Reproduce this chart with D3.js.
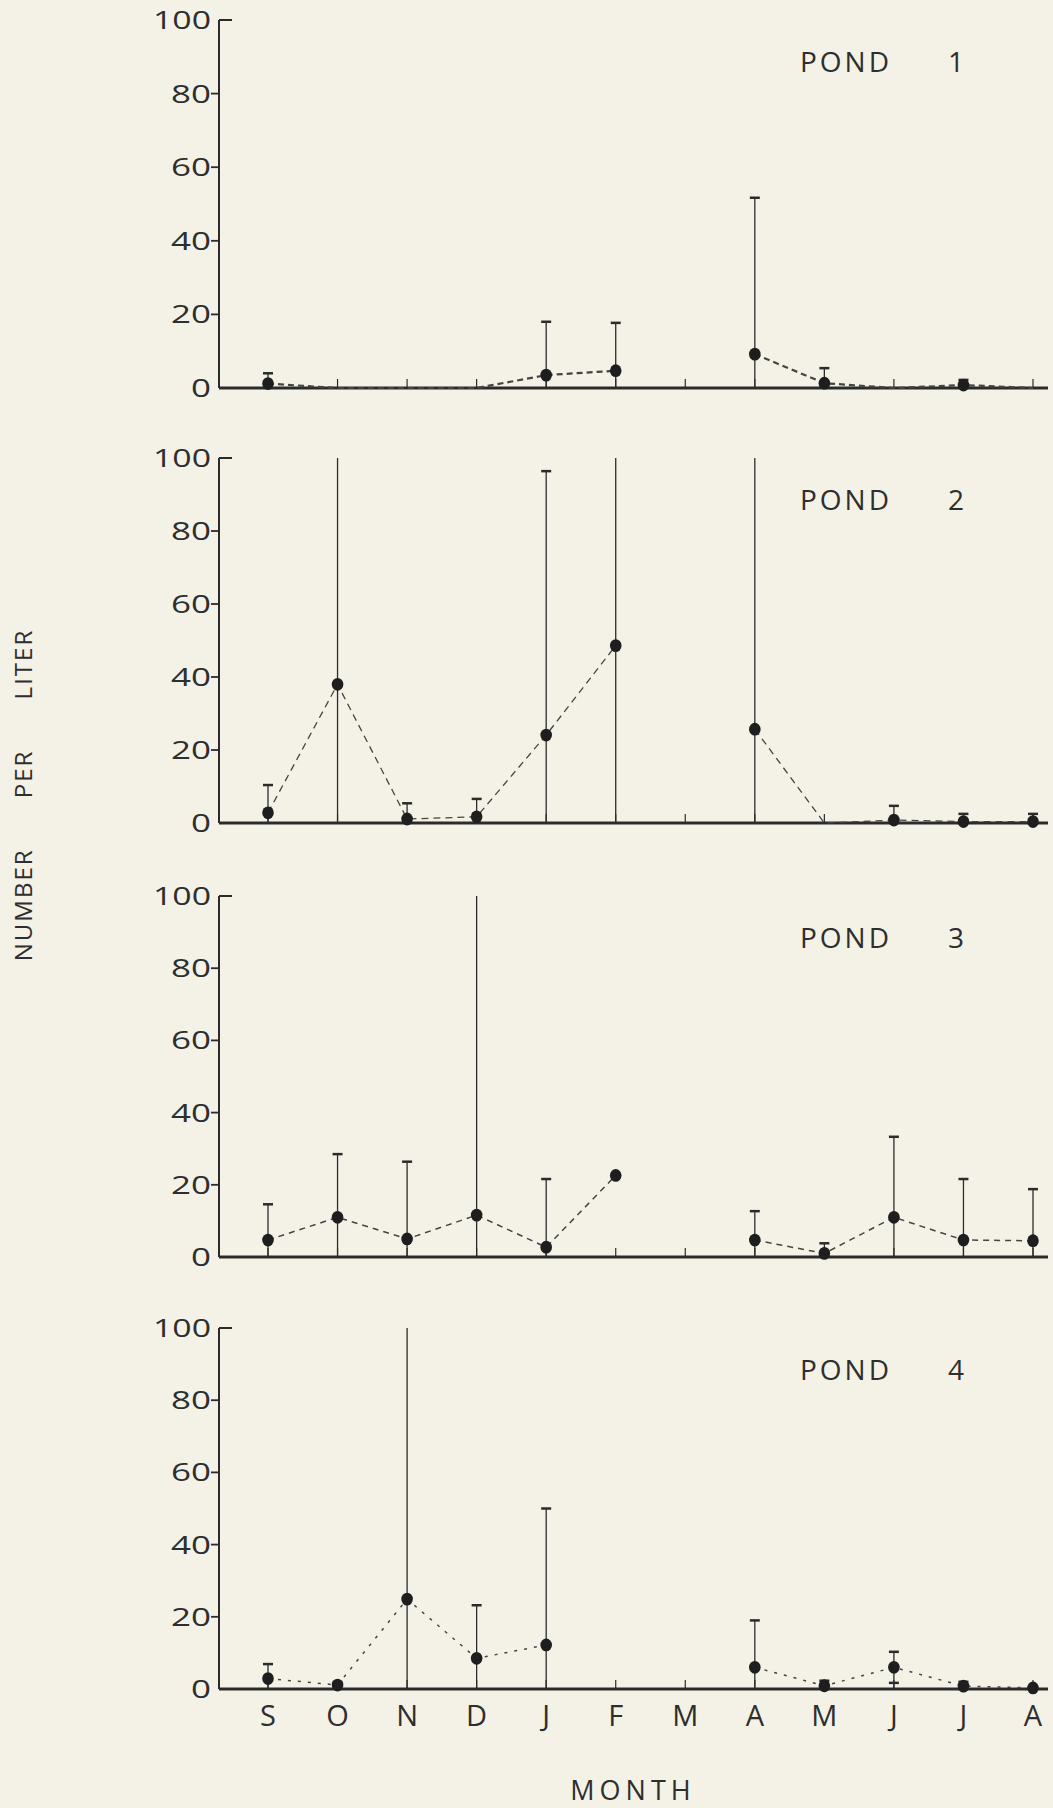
<!DOCTYPE html>
<html>
<head>
<meta charset="utf-8">
<script src="https://cdn.jsdelivr.net/npm/d3@7"></script>
<style>
  html, body { margin: 0; padding: 0; background: #f4f2e7; }
  svg { display: block; }
  text { font-family: "Open Sans", "DejaVu Sans", sans-serif; font-weight: 400; fill: #2e2e2e; }
</style>
</head>
<body>
<script>
// ---------- data ----------
const months = ["S","O","N","D","J","F","M","A","M","J","J","A"];
const yTicks = [0, 20, 40, 60, 80, 100];
const pondLabels = ["1", "2", "3", "4"];

// mean number per liter (null = no sample)
const pond1Mean  = [1.2, 0, 0, 0, 3.5, 4.7, null, 9.2, 1.3, 0, 0.8, 0];
const pond2Mean  = [2.8, 38, 1.1, 1.7, 24.1, 48.6, null, 25.7, 0, 0.8, 0.4, 0.4];
const pond3Mean  = [4.7, 11, 5, 11.6, 2.7, 22.6, null, 4.7, 1, 11, 4.7, 4.5];
const pond4Mean  = [2.9, 1.1, 24.9, 8.5, 12.2, null, null, 6, 0.9, 6, 0.8, 0.3];

// upper end of the error bar (Infinity = runs off the top of the scale)
const pond1Upper = [4, null, null, null, 18, 17.7, null, 51.7, 5.4, null, 2.2, null];
const pond2Upper = [10.4, Infinity, 5.4, 6.6, 96.4, Infinity, null, Infinity, null, 4.7, 2.5, 2.5];
const pond3Upper = [14.6, 28.5, 26.4, Infinity, 21.6, null, null, 12.7, 3.8, 33.3, 21.6, 18.8];
const pond4Upper = [6.9, 1.9, Infinity, 23.2, 50, null, null, 19, 2.3, 10.3, 2, null];

// lower cap of the error bar (only where drawn)
const pond4Lower = [null, null, null, null, null, null, null, null, null, 1.7, null, null];

const ponds = [
  { label: pondLabels[0], mean: pond1Mean, upper: pond1Upper, lower: null, dash: "6,4", lw: 2.2 },
  { label: pondLabels[1], mean: pond2Mean, upper: pond2Upper, lower: null, dash: "7,5", lw: 1.3 },
  { label: pondLabels[2], mean: pond3Mean, upper: pond3Upper, lower: null, dash: "6,5", lw: 1.5 },
  { label: pondLabels[3], mean: pond4Mean, upper: pond4Upper, lower: pond4Lower, dash: "3,7", lw: 1.5 }
];

// ---------- layout ----------
const W = 1053, H = 1808;
const axisX = 219, rightX = 1048;
const panelY = [ [388, 20], [823, 458], [1257, 896], [1689, 1328] ];
const ink = "#2b2b2b";

const svg = d3.select("body").append("svg").attr("width", W).attr("height", H);
svg.append("rect").attr("width", W).attr("height", H).attr("fill", "#f4f2e7");

const x = d3.scaleLinear().domain([0, months.length - 1]).range([268, 1033]);

ponds.forEach((p, pi) => {
  const [y0, y100] = panelY[pi];
  const y = d3.scaleLinear().domain([0, 100]).range([y0, y100]);
  const g = svg.append("g");

  // y axis line
  g.append("line").attr("x1", axisX).attr("x2", axisX).attr("y1", y(100)).attr("y2", y(0))
    .attr("stroke", ink).attr("stroke-width", 2);

  // y ticks
  yTicks.forEach(t => {
    if (t > 0 && t < 100) {
      g.append("line").attr("x1", axisX - 8).attr("x2", axisX).attr("y1", y(t)).attr("y2", y(t))
        .attr("stroke", ink).attr("stroke-width", 1.8);
    } else if (t === 100) {
      g.append("line").attr("x1", axisX).attr("x2", axisX + 13).attr("y1", y(t)).attr("y2", y(t))
        .attr("stroke", ink).attr("stroke-width", 2);
    }
    const s = String(t);
    g.append("text").attr("x", axisX - 8).attr("y", y(t) + 9)
      .attr("text-anchor", "end").attr("font-size", 25)
      .attr("textLength", s === "100" ? 58 : s.length * 20)
      .attr("lengthAdjust", "spacingAndGlyphs")
      .text(s);
  });

  // x axis (thick baseline) and month ticks
  g.append("line").attr("x1", axisX).attr("x2", rightX).attr("y1", y(0)).attr("y2", y(0))
    .attr("stroke", ink).attr("stroke-width", 3.2);
  months.forEach((m, i) => {
    g.append("line").attr("x1", x(i)).attr("x2", x(i)).attr("y1", y(0)).attr("y2", y(0) - 9)
      .attr("stroke", ink).attr("stroke-width", 1.2);
  });

  // error bars
  p.upper.forEach((u, i) => {
    if (u == null) return;
    const top = y(Math.min(u, 100));
    g.append("line").attr("x1", x(i)).attr("x2", x(i)).attr("y1", y(0)).attr("y2", top)
      .attr("stroke", ink).attr("stroke-width", 1.3);
    if (u <= 100) {
      g.append("line").attr("x1", x(i) - 5).attr("x2", x(i) + 5).attr("y1", top).attr("y2", top)
        .attr("stroke", ink).attr("stroke-width", 2.5);
    }
  });
  if (p.lower) {
    p.lower.forEach((l, i) => {
      if (l == null) return;
      g.append("line").attr("x1", x(i) - 5).attr("x2", x(i) + 5).attr("y1", y(l)).attr("y2", y(l))
        .attr("stroke", ink).attr("stroke-width", 2.5);
    });
  }

  // dashed connecting line
  const pts = p.mean.map((v, i) => ({ i, v }));
  const line = d3.line().defined(d => d.v != null).x(d => x(d.i)).y(d => y(d.v));
  g.append("path").datum(pts).attr("d", line).attr("fill", "none")
    .attr("stroke", "#444").attr("stroke-width", p.lw).attr("stroke-dasharray", p.dash);

  // points
  g.selectAll("ellipse.pt").data(pts.filter(d => d.v != null && d.v > 0)).enter()
    .append("ellipse").attr("class", "pt")
    .attr("cx", d => x(d.i)).attr("cy", d => y(d.v))
    .attr("rx", 5.8).attr("ry", 6.4).attr("fill", "#1e1e1e");

  // panel label
  g.append("text").attr("x", 800).attr("y", y(100) + 52).attr("font-size", 28)
    .attr("letter-spacing", 3).text("POND");
  g.append("text").attr("x", 956).attr("y", y(100) + 52).attr("font-size", 28)
    .attr("text-anchor", "middle").text(p.label);

  // month labels on the bottom panel only
  if (pi === ponds.length - 1) {
    months.forEach((m, i) => {
      g.append("text").attr("x", x(i)).attr("y", y(0) + 37).attr("font-size", 29)
        .attr("text-anchor", "middle").text(m);
    });
  }
});

// axis titles
svg.append("text").attr("x", 633).attr("y", 1800).attr("text-anchor", "middle")
  .attr("font-size", 27).attr("letter-spacing", 5).text("MONTH");
svg.append("text").attr("transform", "translate(32,795) rotate(-90)")
  .attr("text-anchor", "middle").attr("font-size", 24).attr("letter-spacing", 2)
  .attr("word-spacing", 42).text("NUMBER PER LITER");
</script>
</body>
</html>
